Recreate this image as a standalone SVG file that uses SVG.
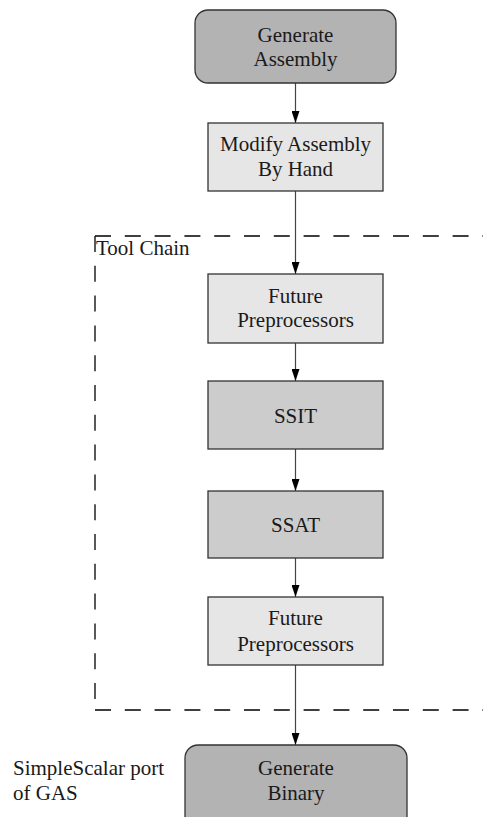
<svg xmlns="http://www.w3.org/2000/svg" width="483" height="817" viewBox="0 0 483 817">
  <style>
    .label { font-family: "Liberation Serif", "Times New Roman", serif; font-size: 21px; fill: #1a1a1a; }
    .mid { text-anchor: middle; }
    .box { stroke: #333333; stroke-width: 1.3; }
    .terminal { fill: #b3b3b3; }
    .tool { fill: #cccccc; }
    .step { fill: #e6e6e6; }
    .edge { stroke: #444444; stroke-width: 1.2; fill: none; marker-end: url(#arrow); }
    .frame { stroke: #000000; stroke-width: 1.3; stroke-dasharray: 16 13.8; fill: none; }
  </style>
  <defs>
    <marker id="arrow" viewBox="0 0 12 8" refX="12" refY="4" markerWidth="12" markerHeight="8" markerUnits="userSpaceOnUse" orient="auto">
      <path d="M0,0 L12,4 L0,8 Z" fill="#000000"/>
    </marker>
  </defs>
  <rect width="483" height="817" fill="#ffffff"/>

  <!-- tool chain boundary (open on the right) -->
  <g id="toolchain">
    <line class="frame" x1="95" y1="236" x2="483" y2="236"/>
    <line class="frame" x1="95" y1="236" x2="95" y2="710"/>
    <line class="frame" x1="95" y1="710" x2="483" y2="710"/>
    <text class="label" x="96" y="255">Tool Chain</text>
  </g>

  <g id="connectors">
    <line class="edge" x1="295.5" y1="83" x2="295.5" y2="123"/>
    <line class="edge" x1="295.5" y1="191" x2="295.5" y2="274"/>
    <line class="edge" x1="295.5" y1="343" x2="295.5" y2="381"/>
    <line class="edge" x1="295.5" y1="449" x2="295.5" y2="491"/>
    <line class="edge" x1="295.5" y1="558" x2="295.5" y2="597"/>
    <line class="edge" x1="295.5" y1="665" x2="295.5" y2="745"/>
  </g>

  <g id="generate-assembly">
    <rect class="box terminal" x="195" y="10" width="201" height="73" rx="13"/>
    <text class="label mid" x="295.5" y="41.5">Generate</text>
    <text class="label mid" x="295.5" y="65.5">Assembly</text>
  </g>

  <g id="modify-assembly">
    <rect class="box step" x="208" y="123" width="175" height="68"/>
    <text class="label mid" x="295.5" y="150.5">Modify Assembly</text>
    <text class="label mid" x="295.5" y="175.5">By Hand</text>
  </g>

  <g id="future-preprocessors-1">
    <rect class="box step" x="208" y="274" width="175" height="69"/>
    <text class="label mid" x="295.5" y="303">Future</text>
    <text class="label mid" x="295.5" y="327">Preprocessors</text>
  </g>

  <g id="ssit">
    <rect class="box tool" x="208" y="381" width="175" height="68"/>
    <text class="label mid" x="295.5" y="422.5">SSIT</text>
  </g>

  <g id="ssat">
    <rect class="box tool" x="208" y="491" width="175" height="67"/>
    <text class="label mid" x="295.5" y="532">SSAT</text>
  </g>

  <g id="future-preprocessors-2">
    <rect class="box step" x="208" y="597" width="175" height="68"/>
    <text class="label mid" x="295.5" y="625">Future</text>
    <text class="label mid" x="295.5" y="650.5">Preprocessors</text>
  </g>

  <g id="generate-binary">
    <rect class="box terminal" x="185" y="745" width="222" height="90" rx="13"/>
    <text class="label mid" x="296" y="775">Generate</text>
    <text class="label mid" x="296" y="800">Binary</text>
  </g>

  <g id="gas-note">
    <text class="label" x="13" y="775">SimpleScalar port</text>
    <text class="label" x="13" y="800">of GAS</text>
  </g>
</svg>
